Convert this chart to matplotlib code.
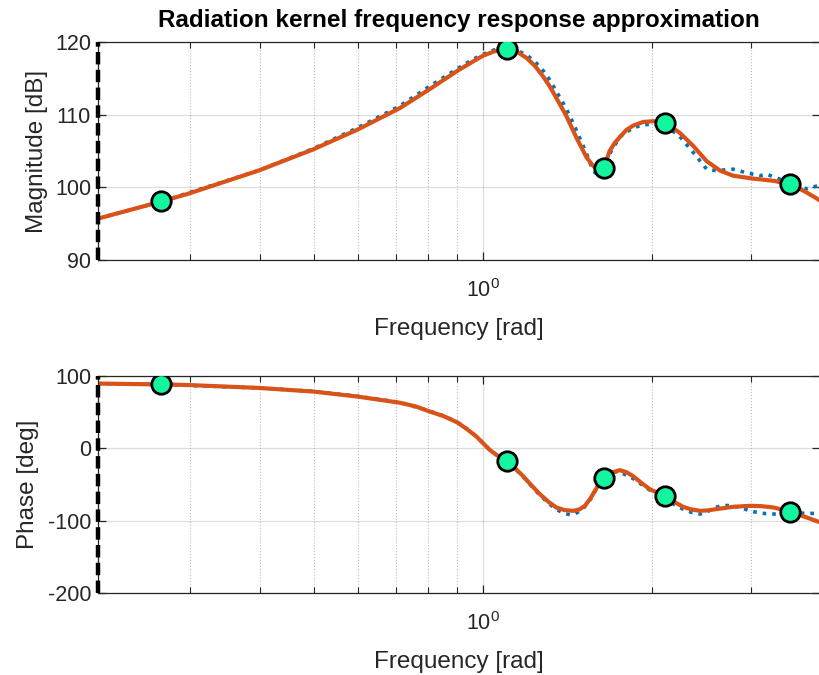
import numpy as np
import matplotlib
matplotlib.use("Agg")
import matplotlib.pyplot as plt
from matplotlib.ticker import LogLocator, NullFormatter, FixedLocator

plt.rcParams["font.family"] = ["Liberation Sans", "DejaVu Sans"]
plt.rcParams["axes.unicode_minus"] = False

# fitted model (orange) - log10 of frequency, magnitude, phase
fit_logw = [-0.686, -0.573, -0.526, -0.400, -0.303, -0.223, -0.148, -0.097, -0.046, -0.020,
            0.000, 0.020, 0.043, 0.060, 0.078, 0.093, 0.108, 0.120, 0.131, 0.149,
            0.167, 0.185, 0.195, 0.203, 0.212, 0.219, 0.226, 0.235, 0.244, 0.256,
            0.268, 0.286, 0.304, 0.315, 0.327, 0.351, 0.375, 0.399, 0.423, 0.446,
            0.482, 0.518, 0.550, 0.577, 0.601]
fit_mag = [95.7, 98.05, 99.1, 102.3, 105.2, 107.95, 110.9, 113.4, 116.0, 117.2,
           118.1, 118.7, 119.0, 118.7, 117.8, 116.7, 115.2, 113.8, 112.3, 109.8,
           106.8, 104.1, 103.1, 102.5, 102.4, 103.4, 105.0, 106.1, 106.9, 107.9,
           108.5, 109.0, 109.1, 109.0, 108.8, 107.5, 105.7, 103.6, 102.3, 101.6,
           101.2, 100.9, 100.4, 99.3, 98.2]

fit_ph_logw = [-0.686, -0.573, -0.526, -0.400, -0.303, -0.223, -0.148, -0.120, -0.097, -0.070,
               -0.046, -0.030, -0.011, 0.0125, 0.025, 0.043, 0.058, 0.072, 0.087, 0.102,
               0.117, 0.131, 0.146, 0.161, 0.172, 0.182, 0.192, 0.203, 0.211, 0.219,
               0.230, 0.244, 0.256, 0.268, 0.283, 0.298, 0.312, 0.327, 0.342, 0.357,
               0.372, 0.387, 0.401, 0.416, 0.446, 0.476, 0.497, 0.518, 0.535, 0.550,
               0.577, 0.601]
fit_phase = [89.5, 88.3, 87.5, 83.5, 78.5, 71.5, 63.0, 58.0, 51.5, 44.5,
             36.0, 27.5, 16.0, -2.3, -9.5, -17.3, -28.0, -38.6, -51.5, -63.6,
             -74.0, -81.8, -85.5, -86.4, -84.5, -79.5, -69.0, -54.5, -46.5, -40.9,
             -33.5, -30.2, -33.0, -38.6, -48.0, -56.8, -61.5, -65.9, -74.5, -80.9,
             -84.5, -86.4, -85.8, -84.1, -80.9, -79.5, -80.0, -81.8, -85.0, -88.6,
             -95.5, -102.3]

# measured kernel response (blue dotted)
data_logw = [-0.686, -0.573, -0.400, -0.303, -0.223, -0.148, -0.097, -0.046, -0.020, 0.000,
             0.020, 0.043, 0.060, 0.078, 0.093, 0.108, 0.120, 0.131, 0.149, 0.167,
             0.185, 0.193, 0.200, 0.206, 0.212, 0.220, 0.230, 0.245, 0.268, 0.286,
             0.304, 0.327, 0.351, 0.375, 0.399, 0.416, 0.446, 0.470, 0.494, 0.506,
             0.530, 0.550, 0.577, 0.601]
data_mag = [95.7, 98.05, 102.3, 105.3, 108.2, 111.2, 113.8, 116.3, 117.5, 118.3,
            118.9, 119.1, 118.9, 118.2, 117.3, 116.0, 114.7, 113.2, 110.8, 107.8,
            104.6, 103.0, 102.0, 101.9, 102.3, 103.5, 105.2, 107.0, 108.2, 108.6,
            108.7, 108.4, 107.0, 104.8, 102.5, 102.3, 102.5, 102.0, 101.6, 101.8,
            101.1, 100.5, 99.8, 100.3]

data_ph_logw = [-0.686, -0.573, -0.400, -0.303, -0.223, -0.148, -0.097, -0.070, -0.046, -0.030,
                -0.011, 0.0125, 0.025, 0.043, 0.058, 0.072, 0.087, 0.102, 0.117, 0.131,
                0.144, 0.155, 0.163, 0.170, 0.178, 0.185, 0.195, 0.203, 0.211, 0.219,
                0.230, 0.240, 0.253, 0.268, 0.283, 0.298, 0.312, 0.327, 0.342, 0.357,
                0.372, 0.387, 0.396, 0.405, 0.416, 0.428, 0.443, 0.458, 0.473, 0.488,
                0.503, 0.518, 0.535, 0.550, 0.577, 0.601]
data_phase = [89.5, 88.3, 83.5, 78.8, 72.0, 63.5, 52.0, 45.0, 36.5, 28.0,
              16.0, -2.3, -9.5, -17.3, -28.5, -39.5, -52.5, -65.0, -76.0, -84.5,
              -89.5, -91.8, -91.0, -88.0, -83.5, -78.0, -67.0, -55.0, -46.0, -40.0,
              -34.0, -32.0, -36.0, -41.8, -50.0, -58.0, -64.5, -70.5, -78.0, -84.1,
              -88.5, -90.9, -89.0, -85.5, -81.5, -78.6, -79.5, -81.8, -85.5, -88.6,
              -90.2, -90.9, -90.0, -88.6, -90.0, -90.0]

# interpolation frequencies (green markers)
pts_logw = [-0.573, 0.043, 0.216, 0.325, 0.548]
pts_mag = [98.1, 119.0, 102.7, 108.8, 100.4]
pts_phase = [88.5, -17.3, -40.9, -65.9, -88.3]

xlim = (10 ** -0.686, 10 ** 0.601)
blue = "#0072BD"
orange = "#D95319"
green = "#14F5A0"
txt = "#262626"

fig = plt.figure(figsize=(8.2, 6.75), dpi=100)
ax1 = fig.add_axes([0.1195, 0.6148, 0.8805, 0.323])
ax2 = fig.add_axes([0.1195, 0.1215, 0.8805, 0.3215])


def style(ax, yticks, ylim, ylabel, ypad):
    ax.set_xscale("log")
    ax.set_xlim(*xlim)
    ax.set_ylim(*ylim)
    ax.set_yticks(yticks)
    ax.xaxis.set_major_locator(FixedLocator([1.0]))
    ax.xaxis.set_minor_locator(LogLocator(base=10, subs=np.arange(2, 10)))
    ax.xaxis.set_minor_formatter(NullFormatter())
    ax.grid(True, which="major", color=txt, alpha=0.15, lw=0.9, ls="-")
    ax.grid(True, which="minor", axis="x", color=txt, alpha=0.3, lw=0.8, ls=":")
    ax.tick_params(which="both", direction="in", top=True, right=True,
                   labelsize=15.5, colors=txt, labelcolor=txt)
    ax.tick_params(which="major", length=6, width=0.9)
    ax.tick_params(which="minor", length=4, width=0.8)
    ax.tick_params(axis="x", which="major", pad=14)
    ax.tick_params(axis="y", which="major", pad=5)
    for s in ax.spines.values():
        s.set_color(txt)
        s.set_linewidth(0.9)
    ax.set_xlabel("Frequency [rad]", fontsize=17.5, color=txt, labelpad=11)
    ax.set_ylabel(ylabel, fontsize=17.5, color=txt, labelpad=ypad)
    ax.axvline(xlim[0], color="k", ls=(0, (2.8, 1.2)), lw=3.2, clip_on=False, zorder=6)
    ax.set_axisbelow(True)


w_pts = 10 ** np.array(pts_logw)

ax1.plot(10 ** np.array(data_logw), data_mag, color=blue, ls=":", lw=2.6)
ax1.plot(10 ** np.array(fit_logw), fit_mag, color=orange, lw=3.0)
ax1.plot(w_pts, pts_mag, "o", ms=14, mfc=green, mec="k", mew=2.0, zorder=5)
style(ax1, [90, 100, 110, 120], (90, 120), "Magnitude [dB]", 5)
ax1.set_title("Radiation kernel frequency response approximation",
              fontsize=17.5, fontweight="bold", pad=11)

ax2.plot(10 ** np.array(data_ph_logw), data_phase, color=blue, ls=":", lw=2.6)
ax2.plot(10 ** np.array(fit_ph_logw), fit_phase, color=orange, lw=3.0)
ax2.plot(w_pts, pts_phase, "o", ms=14, mfc=green, mec="k", mew=2.0, zorder=5)
style(ax2, [-200, -100, 0, 100], (-200, 100), "Phase [deg]", 6)

fig.savefig("out.png", dpi=100)
